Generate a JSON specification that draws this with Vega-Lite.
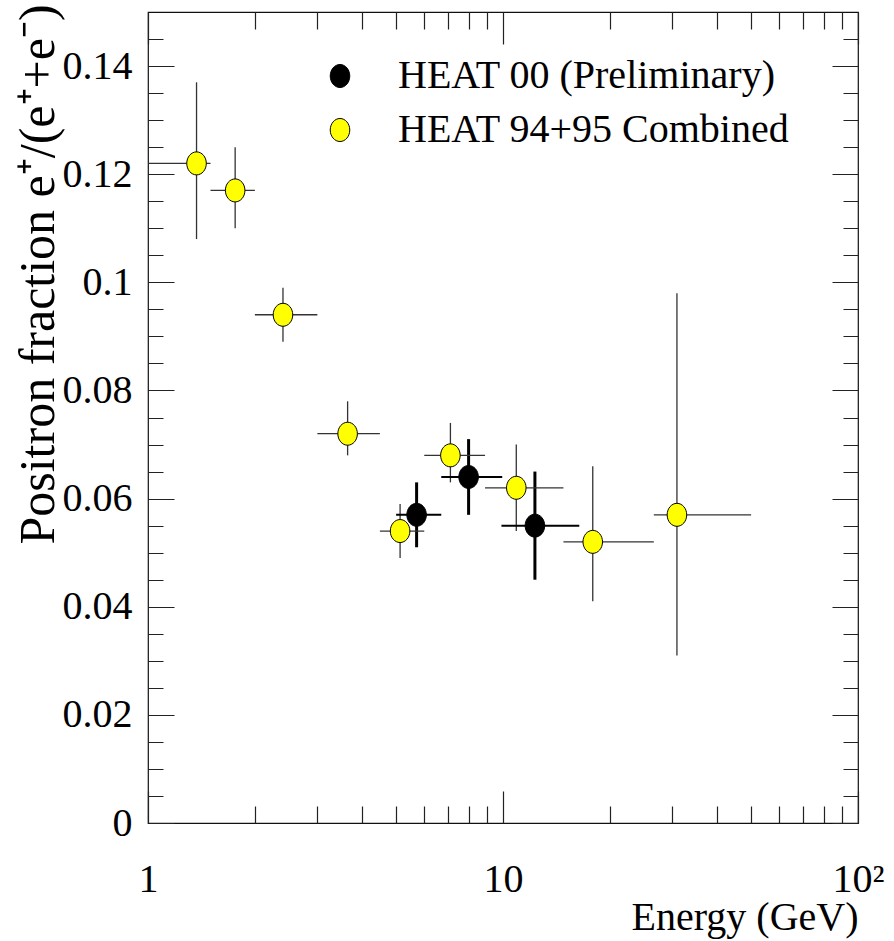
{
  "$schema": "https://vega.github.io/schema/vega-lite/v6.json",
  "width": 710,
  "height": 811,
  "autosize": {"type": "none"},
  "padding": {"left": 148, "top": 12, "right": 36, "bottom": 118},
  "background": "white",
  "config": {
    "view": {"stroke": "#111", "strokeWidth": 1.2},
    "font": "Liberation Serif",
    "axis": {"labelFont": "Liberation Serif", "titleFont": "Liberation Serif", "labelColor": "black", "titleColor": "black", "titleFontWeight": "normal", "labelFontSize": 40, "titleFontSize": 40},
    "legend": {"labelFont": "Liberation Serif", "labelFontSize": 40, "labelColor": "black", "labelLimit": 0}
  },
  "data": {
    "values": [
      {"series": "HEAT 94+95 Combined", "E": 1.37, "Elo": 1.0, "Ehi": 1.5, "f": 0.122, "flo": 0.108, "fhi": 0.137},
      {"series": "HEAT 94+95 Combined", "E": 1.76, "Elo": 1.5, "Ehi": 2.0, "f": 0.117, "flo": 0.110, "fhi": 0.125},
      {"series": "HEAT 94+95 Combined", "E": 2.40, "Elo": 2.0, "Ehi": 3.0, "f": 0.094, "flo": 0.089, "fhi": 0.099},
      {"series": "HEAT 94+95 Combined", "E": 3.65, "Elo": 3.0, "Ehi": 4.5, "f": 0.072, "flo": 0.068, "fhi": 0.078},
      {"series": "HEAT 94+95 Combined", "E": 5.13, "Elo": 4.5, "Ehi": 6.0, "f": 0.054, "flo": 0.049, "fhi": 0.059},
      {"series": "HEAT 94+95 Combined", "E": 7.11, "Elo": 6.0, "Ehi": 8.9, "f": 0.068, "flo": 0.063, "fhi": 0.074},
      {"series": "HEAT 94+95 Combined", "E": 10.9, "Elo": 8.9, "Ehi": 14.8, "f": 0.062, "flo": 0.054, "fhi": 0.070},
      {"series": "HEAT 94+95 Combined", "E": 17.9, "Elo": 14.8, "Ehi": 26.6, "f": 0.052, "flo": 0.041, "fhi": 0.066},
      {"series": "HEAT 94+95 Combined", "E": 30.9, "Elo": 26.6, "Ehi": 50.0, "f": 0.057, "flo": 0.031, "fhi": 0.098},
      {"series": "HEAT 00 (Preliminary)", "E": 5.71, "Elo": 5.0, "Ehi": 6.7, "f": 0.057, "flo": 0.051, "fhi": 0.063},
      {"series": "HEAT 00 (Preliminary)", "E": 8.0, "Elo": 6.7, "Ehi": 9.95, "f": 0.064, "flo": 0.057, "fhi": 0.071},
      {"series": "HEAT 00 (Preliminary)", "E": 12.3, "Elo": 9.9, "Ehi": 16.4, "f": 0.055, "flo": 0.045, "fhi": 0.065}
    ]
  },
  "resolve": {"axis": {"x": "independent", "y": "independent"}},
  "layer": [
    {
      "mark": {"type": "rule"},
      "encoding": {
        "x": {"field": "E", "type": "quantitative", "scale": {"type": "log", "domain": [1, 100]},
          "axis": {"orient": "bottom", "values": [2,3,4,5,6,7,8,9,20,30,40,50,60,70,80,90], "labels": false, "ticks": false, "domain": false, "title": null,
            "grid": true, "gridColor": "#222", "gridOpacity": 1, "gridWidth": 1.2, "gridDash": [17, 777, 17]}},
        "y": {"field": "flo", "type": "quantitative", "scale": {"domain": [0, 0.15]},
          "axis": {"orient": "left", "values": [0.005,0.01,0.015,0.025,0.03,0.035,0.045,0.05,0.055,0.065,0.07,0.075,0.085,0.09,0.095,0.105,0.11,0.115,0.125,0.13,0.135,0.145], "labels": false, "ticks": false, "domain": false, "title": null,
            "grid": true, "gridColor": "#222", "gridOpacity": 1, "gridWidth": 1.2, "gridDash": [15, 680, 15]}},
        "y2": {"field": "fhi"},
        "color": {"condition": {"test": "datum.series === 'HEAT 00 (Preliminary)'", "value": "black"}, "value": "#333"},
        "strokeWidth": {"condition": {"test": "datum.series === 'HEAT 00 (Preliminary)'", "value": 3}, "value": 1.3}
      }
    },
    {
      "mark": {"type": "rule"},
      "encoding": {
        "x": {"field": "Elo", "type": "quantitative", "scale": {"type": "log", "domain": [1, 100]}, "axis": null},
        "x2": {"field": "Ehi"},
        "y": {"field": "f", "type": "quantitative", "scale": {"domain": [0, 0.15]}, "axis": null},
        "color": {"condition": {"test": "datum.series === 'HEAT 00 (Preliminary)'", "value": "black"}, "value": "#333"},
        "strokeWidth": {"condition": {"test": "datum.series === 'HEAT 00 (Preliminary)'", "value": 2}, "value": 1.3}
      }
    },
    {
      "mark": {"type": "point", "filled": true, "shape": "M -0.85 0 A 0.85 1 0 1 1 0.85 0 A 0.85 1 0 1 1 -0.85 0 Z", "size": 529, "stroke": "black", "strokeWidth": 1, "opacity": 1},
      "encoding": {
        "x": {"field": "E", "type": "quantitative", "scale": {"type": "log", "domain": [1, 100]},
          "axis": {"orient": "bottom", "values": [1, 10, 100], "labelExpr": "datum.value == 100 ? '10²' : datum.value == 10 ? '10' : '1'", "labelFlush": false, "labelBaseline": "alphabetic", "labelPadding": 68, "ticks": false, "domain": false,
            "title": "Energy (GeV)", "titleAnchor": "end", "titleBaseline": "alphabetic", "titlePadding": 30,
            "grid": true, "gridColor": "#222", "gridOpacity": 1, "gridWidth": 1.2, "gridDash": [32, 747, 32]}},
        "y": {"field": "f", "type": "quantitative", "scale": {"domain": [0, 0.15]},
          "axis": {"orient": "left", "values": [0, 0.02, 0.04, 0.06, 0.08, 0.1, 0.12, 0.14], "format": "~g", "labelPadding": 16, "ticks": false, "domain": false,
            "title": "Positron fraction e⁺/(e⁺+e⁻)", "titleFontSize": 50, "titleAngle": -90, "titleAlign": "center", "titleBaseline": "alphabetic", "titleX": -95, "titleY": 262,
            "grid": true, "gridColor": "#222", "gridOpacity": 1, "gridWidth": 1.2, "gridDash": [26, 658, 26]}},
        "fill": {"field": "series", "type": "nominal",
          "scale": {"domain": ["HEAT 00 (Preliminary)", "HEAT 94+95 Combined"], "range": ["black", "#ffff00"]},
          "legend": {"orient": "none", "legendX": 172, "legendY": 44, "title": null, "padding": 0,
            "symbolType": "M -0.85 0 A 0.85 1 0 1 1 0.85 0 A 0.85 1 0 1 1 -0.85 0 Z", "symbolSize": 529,
            "symbolStrokeColor": "black", "symbolStrokeWidth": 1, "symbolOpacity": 1, "rowPadding": 14, "labelOffset": 38, "labelFontSize": 40, "labelLimit": 0}}
      }
    }
  ]
}
